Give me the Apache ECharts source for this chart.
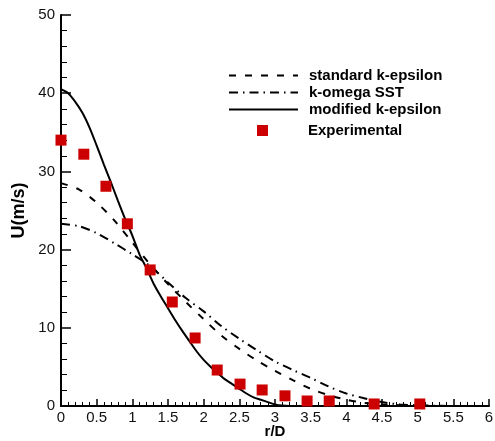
<!DOCTYPE html>
<html>
<head>
<meta charset="utf-8">
<script src="https://cdn.jsdelivr.net/npm/echarts@6/dist/echarts.min.js"></script>
<style>
  html, body { margin: 0; padding: 0; background: #fff; }
  #chart { width: 495px; height: 441px; }
</style>
</head>
<body>
<div id="chart"></div>
<script>
  // experimental points
  const expR = [0, 0.32, 0.63, 0.93, 1.25, 1.56, 1.88, 2.19, 2.51, 2.82, 3.14, 3.45, 3.76, 4.39, 5.03];
  const expU = [34.0, 32.2, 28.1, 23.3, 17.4, 13.3, 8.7, 4.6, 2.8, 2.05, 1.3, 0.64, 0.64, 0.26, 0.26];

  // standard k-epsilon
  const stdR = [0, 0.25, 0.5, 0.75, 1.0, 1.25, 1.5, 1.75, 2.0, 2.25, 2.5, 2.75, 3.0, 3.25, 3.5, 3.75, 4.0, 4.25, 4.5, 4.75, 5.0, 5.5, 6.0];
  const stdU = [28.5, 27.7, 26.0, 23.7, 20.9, 18.1, 15.6, 13.3, 11.1, 9.0, 7.3, 5.8, 4.5, 3.3, 2.2, 1.4, 0.8, 0.4, 0.2, 0.1, 0, 0, 0];

  // k-omega SST
  const sstR = [0, 0.25, 0.5, 0.75, 1.0, 1.25, 1.5, 1.75, 2.0, 2.25, 2.5, 2.75, 3.0, 3.25, 3.5, 3.75, 4.0, 4.25, 4.5, 4.75, 5.0, 5.5, 6.0];
  const sstU = [23.3, 23.0, 22.1, 20.8, 19.4, 17.9, 15.8, 13.8, 12.1, 10.2, 8.6, 7.1, 5.7, 4.6, 3.6, 2.5, 1.6, 1.0, 0.5, 0.2, 0.1, 0, 0];

  // modified k-epsilon
  const modR = [0, 0.1, 0.2, 0.3, 0.4, 0.5, 0.6, 0.7, 0.8, 0.9, 1.0, 1.1, 1.2, 1.3, 1.4, 1.5, 1.6, 1.7, 1.8, 1.9, 2.0,
                2.1, 2.2, 2.3, 2.4, 2.5, 2.6, 2.7, 2.8, 2.9, 3.0, 3.1, 3.2, 4.0, 5.0, 6.0];
  const modU = [40.5, 40.0, 38.9, 37.5, 35.6, 33.3, 30.9, 28.6, 26.2, 23.9, 21.8, 19.4, 17.6, 15.6, 14.0, 12.5, 11.0, 9.6, 8.3, 7.0, 5.9,
                5.0, 4.2, 3.4, 2.8, 2.2, 1.6, 1.1, 0.8, 0.5, 0.2, 0.05, 0, 0, 0, 0];

  const seriesNames = ['standard k-epsilon', 'k-omega SST', 'modified k-epsilon', 'Experimental'];

  function pairs(xs, ys) {
    return xs.map((x, i) => [x, ys[i]]);
  }

  const chart = echarts.init(document.getElementById('chart'));
  const font = 'Liberation Sans, Arial, sans-serif';
  const axisFont = { fontFamily: font, fontSize: 15, color: '#111' };
  const legendText = { fontFamily: font, fontSize: 15, fontWeight: 'bold', color: '#000' };

  chart.setOption({
    animation: false,
    grid: { left: 61, right: 6, top: 15, bottom: 35, containLabel: false, outerBoundsMode: 'none' },
    legend: [
      {
        data: seriesNames.slice(0, 3),
        orient: 'vertical',
        left: 228,
        top: 68,
        padding: 0,
        itemWidth: 69,
        itemHeight: 12,
        itemGap: 2,
        itemStyle: { opacity: 0 },
        textStyle: Object.assign({ padding: [0, 0, 0, 6] }, legendText),
        selectedMode: false
      },
      {
        data: [{ name: seriesNames[3], icon: 'rect' }],
        orient: 'vertical',
        left: 257,
        top: 123,
        padding: 0,
        itemWidth: 11,
        itemHeight: 11,
        textStyle: Object.assign({ padding: [0, 0, 0, 35] }, legendText),
        selectedMode: false
      }
    ],
    xAxis: {
      type: 'value',
      min: 0,
      max: 6,
      interval: 0.5,
      name: 'r/D',
      nameLocation: 'middle',
      nameGap: 18,
      nameMoveOverlap: false,
      nameTextStyle: { fontFamily: font, fontSize: 15, fontWeight: 'bold', color: '#000' },
      axisLine: { show: true, lineStyle: { color: '#000', width: 2 } },
      axisTick: { show: true, inside: true, length: 7, lineStyle: { color: '#000', width: 1.5 } },
      minorTick: { show: true, splitNumber: 5, length: 4, lineStyle: { color: '#000', width: 1 } },
      splitLine: { show: false },
      axisLabel: Object.assign({ margin: 4 }, axisFont)
    },
    yAxis: {
      type: 'value',
      min: 0,
      max: 50,
      interval: 10,
      name: 'U(m/s)',
      nameLocation: 'middle',
      nameGap: 33,
      nameMoveOverlap: false,
      nameTextStyle: { fontFamily: font, fontSize: 18, fontWeight: 'bold', color: '#000' },
      axisLine: { show: true, lineStyle: { color: '#000', width: 2 } },
      axisTick: { show: true, inside: true, length: 10, lineStyle: { color: '#000', width: 1.5 } },
      minorTick: { show: true, splitNumber: 5, length: 6, lineStyle: { color: '#000', width: 1 } },
      splitLine: { show: false },
      axisLabel: Object.assign({ margin: 6 }, axisFont)
    },
    series: [
      {
        name: seriesNames[0],
        type: 'line',
        symbol: 'none',
        smooth: 0.3,
        color: '#000',
        lineStyle: { color: '#000', width: 2, type: [7, 9] },
        data: pairs(stdR, stdU)
      },
      {
        name: seriesNames[1],
        type: 'line',
        symbol: 'none',
        smooth: 0.3,
        color: '#000',
        lineStyle: { color: '#000', width: 2, type: [9, 5, 1.5, 5] },
        data: pairs(sstR, sstU)
      },
      {
        name: seriesNames[2],
        type: 'line',
        symbol: 'none',
        smooth: 0.3,
        color: '#000',
        lineStyle: { color: '#000', width: 2 },
        data: pairs(modR, modU)
      },
      {
        name: seriesNames[3],
        type: 'scatter',
        symbol: 'rect',
        symbolSize: 11,
        itemStyle: { color: '#cc0000', opacity: 1 },
        z: 5,
        data: pairs(expR, expU)
      }
    ]
  });

  window.addEventListener('resize', () => chart.resize());
</script>
</body>
</html>
